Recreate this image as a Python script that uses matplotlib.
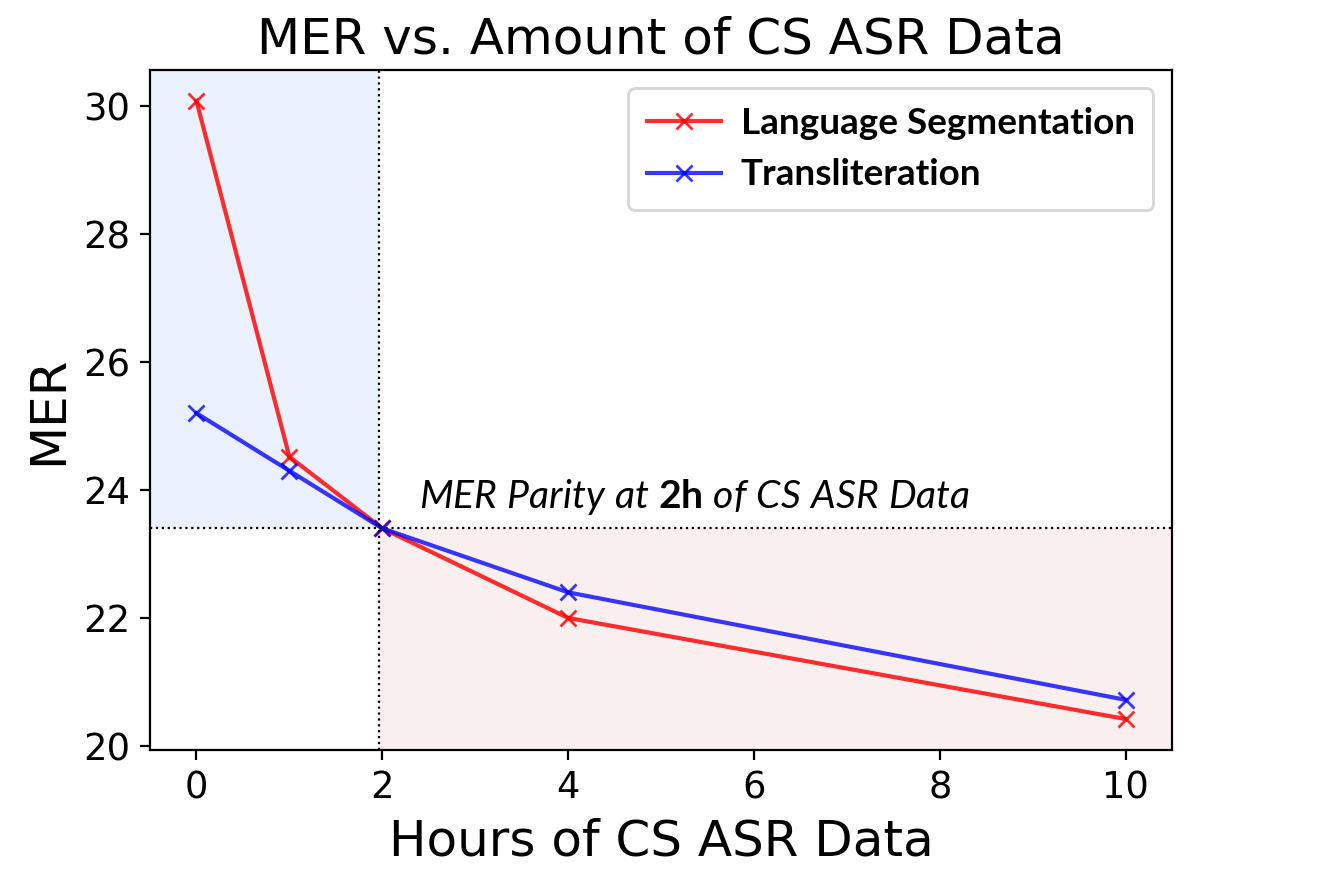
import matplotlib
matplotlib.use("Agg")
import matplotlib.pyplot as plt

# hours of code-switched ASR data and the MER for each approach
hours = [0, 1, 2, 4, 10]
mer_segmentation = [30.08, 24.52, 23.40, 22.00, 20.42]
mer_transliteration = [25.20, 24.30, 23.40, 22.40, 20.72]
labels = ["Language Segmentation", "Transliteration"]

parity_x = 1.96
parity_y = 23.4

plt.rcParams['mathtext.fontset'] = 'custom'
plt.rcParams['mathtext.it'] = 'Lato:italic'
plt.rcParams['mathtext.bf'] = 'Lato:bold'
plt.rcParams['mathtext.rm'] = 'Lato'

fig = plt.figure(figsize=(6.59, 4.36), dpi=200)
ax = fig.add_axes([0.1138, 0.140, 0.7754, 0.7797])

ax.plot(hours, mer_segmentation, marker='x', color='red', alpha=0.82, label=labels[0])
ax.plot(hours, mer_transliteration, marker='x', color='blue', alpha=0.78, label=labels[1])

xl = ax.get_xlim()
yl = ax.get_ylim()

# shaded regions either side of the parity point
ax.fill_between([xl[0], parity_x], parity_y, yl[1], color='#eaf1fd', zorder=0, lw=0)
ax.fill_between([parity_x, xl[1]], yl[0], parity_y, color='#f9efef', zorder=0, lw=0)
ax.axhline(parity_y, color='black', linestyle=':', linewidth=0.8)
ax.axvline(parity_x, color='black', linestyle=':', linewidth=0.8)
ax.set_xlim(xl)
ax.set_ylim(yl)

ax.text(2.4, 23.72, r"$\it{MER\ Parity\ at}$ $\bf{2h}$ $\it{of\ CS\ ASR\ Data}$",
        fontsize=14.1, family='Lato', va='baseline')

ax.set_title("MER vs. Amount of CS ASR Data", fontsize=18)
ax.set_xlabel("Hours of CS ASR Data", fontsize=18)
ax.set_ylabel("MER", fontsize=18)
ax.tick_params(labelsize=13.3)
ax.set_yticks([20, 22, 24, 26, 28, 30])
ax.set_xticks([0, 2, 4, 6, 8, 10])

ax.legend(loc='upper right', handletextpad=0.55, labelspacing=0.5, borderpad=0.5,
          prop={'family': 'Lato', 'weight': 'bold', 'size': 13.3})

fig.savefig("out.png", dpi=200)
